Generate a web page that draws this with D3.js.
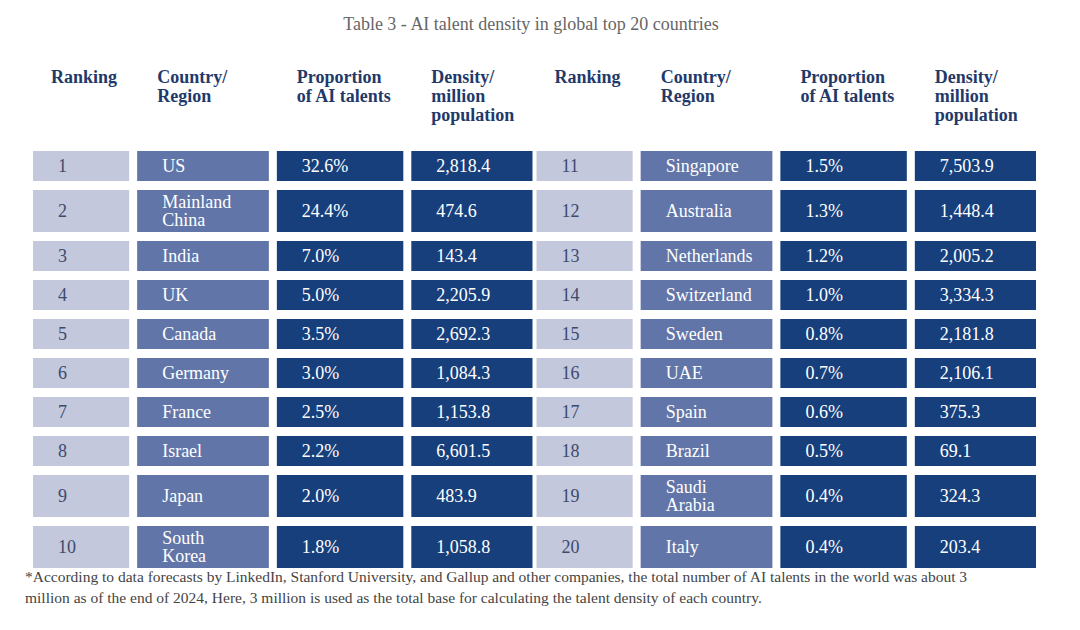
<!DOCTYPE html>
<html><head><meta charset="utf-8">
<script src="https://cdn.jsdelivr.net/npm/d3@7"></script>
<style>body{margin:0;background:#fff}</style>
</head><body>
<svg id="chart" width="1080" height="630"></svg>
<script>
const title = 'Table 3 - AI talent density in global top 20 countries';
const headers = [['Ranking'], ['Country/', 'Region'], ['Proportion', 'of AI talents'], ['Density/', 'million', 'population']];
const ranks = d3.range(1, 21);
const countries = [['US'], ['Mainland', 'China'], ['India'], ['UK'], ['Canada'], ['Germany'], ['France'], ['Israel'], ['Japan'], ['South', 'Korea'],
  ['Singapore'], ['Australia'], ['Netherlands'], ['Switzerland'], ['Sweden'], ['UAE'], ['Spain'], ['Brazil'], ['Saudi', 'Arabia'], ['Italy']];
const proportions = [32.6, 24.4, 7.0, 5.0, 3.5, 3.0, 2.5, 2.2, 2.0, 1.8, 1.5, 1.3, 1.2, 1.0, 0.8, 0.7, 0.6, 0.5, 0.4, 0.4];
const densities = [2818.4, 474.6, 143.4, 2205.9, 2692.3, 1084.3, 1153.8, 6601.5, 483.9, 1058.8,
  7503.9, 1448.4, 2005.2, 3334.3, 2181.8, 2106.1, 375.3, 69.1, 324.3, 203.4];
const footnote = ['*According to data forecasts by LinkedIn, Stanford University, and Gallup and other companies, the total number of AI talents in the world was about 3',
  'million as of the end of 2024, Here, 3 million is used as the total base for calculating the talent density of each country.'];

const svg = d3.select('#chart');
const font = '"Liberation Serif", "DejaVu Serif", serif';
const fills = ['#c3c8dc', '#6275a8', '#173f7c', '#173f7c'];
const textCol = ['#3d4a6e', '#fff', '#fff', '#fff'];
const widths = [0.73, 1, 0.96, 0.92];

svg.append('text').attr('x', 531).attr('y', 30).attr('text-anchor', 'middle')
  .attr('font-family', font).attr('font-size', 18).attr('fill', '#666').text(title);

// columns: two halves, each of 4 cells
const half = d3.scaleBand().domain([0, 1]).range([33, 1036]).paddingInner(0.008);
const colX = (h, c) => {
  const tot = d3.sum(widths);
  const inner = half.bandwidth() - 3 * 8;
  let x = half(h);
  for (let i = 0; i < c; i++) x += inner * widths[i] / tot + 8;
  return [x, inner * widths[c] / tot];
};

// rows: units per row, taller when any cell has two lines
const rowLines = d3.range(10).map(i => Math.max(countries[i].length, countries[i + 10].length));
const rowH = rowLines.map(l => l > 1 ? 42 : 30);
const gap = 9;
const rowY = [];
rowH.reduce((acc, h, i) => { rowY[i] = acc; return acc + h + gap; }, 0);
const y = d3.scaleLinear().domain([0, 1]).range([151, 152]);

// headers
[0, 1].forEach(h => headers.forEach((hd, c) => {
  const [x] = colX(h, c);
  const t = svg.append('text').attr('font-family', font).attr('font-weight', 'bold')
    .attr('font-size', 18).attr('fill', '#1f3a6a');
  hd.forEach((ln, j) => t.append('tspan').attr('x', x + (c === 0 ? 18 : 20)).attr('y', 83 + j * 19).text(ln));
}));

const fmt = d3.format(',.1f');
const rows = ranks.map((r, i) => ({
  half: i < 10 ? 0 : 1, row: i % 10,
  cells: [[String(r)], countries[i], [proportions[i].toFixed(1) + '%'], [fmt(densities[i])]]
}));

rows.forEach(d => d.cells.forEach((lines, c) => {
  const [x, w] = colX(d.half, c);
  const top = y(rowY[d.row]), h = rowH[d.row];
  svg.append('rect').attr('x', x).attr('y', top).attr('width', w).attr('height', h).attr('fill', fills[c]);
  const t = svg.append('text').attr('font-family', font).attr('font-size', 18).attr('fill', textCol[c]);
  const n = lines.length;
  lines.forEach((ln, j) => t.append('tspan').attr('x', x + 25)
    .attr('y', top + h / 2 + 6 + (j - (n - 1) / 2) * 18).text(ln));
}));

const f = svg.append('text').attr('font-family', font).attr('font-size', 15.5).attr('fill', '#444');
footnote.forEach((ln, j) => f.append('tspan').attr('x', 25).attr('y', 582 + j * 21).text(ln));
</script>
</body></html>
